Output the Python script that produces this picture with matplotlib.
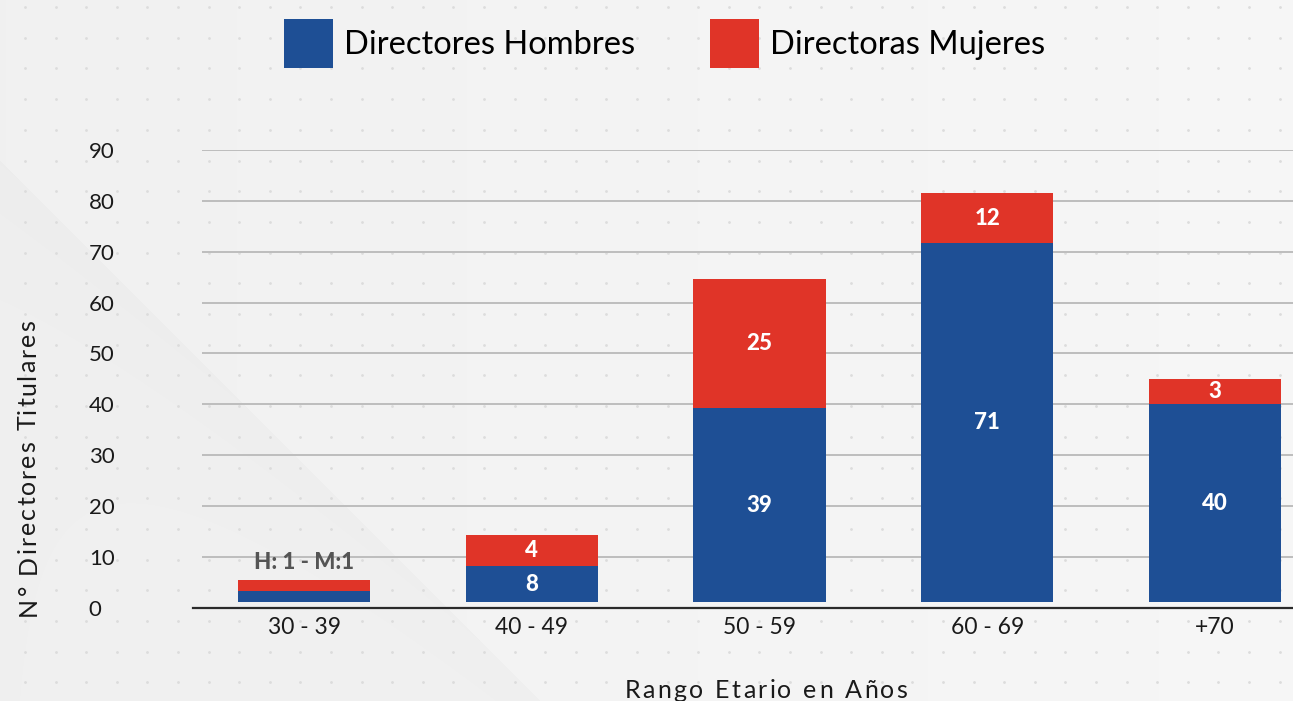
import numpy as np
import matplotlib
matplotlib.use("Agg")
import matplotlib.pyplot as plt

# ====== DATA ======
categorias = ["30 - 39", "40 - 49", "50 - 59", "60 - 69", "+70"]
hombres = [1, 8, 39, 71, 40]          # valores rotulados
mujeres = [1, 4, 25, 12, 3]
# alturas de los segmentos tal como se dibujan en la lamina
hombres_alto = [2.2, 7.1, 38.1, 70.6, 38.9]
mujeres_alto = [2.2, 6.1, 25.4, 9.8, 4.9]
y_ticks = [0, 10, 20, 30, 40, 50, 60, 70, 80, 90]

AZUL = "#1e4f95"
ROJO = "#e03428"
BASE = 1.1
W, H = 1293, 701

plt.rcParams["font.family"] = ["Lato", "DejaVu Sans"]

fig = plt.figure(figsize=(W / 100, H / 100), dpi=100)
fig.patch.set_facecolor("#f2f2f2")

# ====== BACKGROUND (gradient + diagonal + dots) ======
bg = fig.add_axes([0, 0, 1, 1], zorder=-10)
yy, xx = np.mgrid[0:H, 0:W]
img = 0.945 + 0.022 * (xx / W)
d = yy - xx - 160  # > 0 below diagonal
shade = np.where(d > 0, 0.012 * np.exp(-d / 120.0) + 0.004, 0)
img = img - shade
bg.imshow(np.dstack([img, img, img]), extent=[0, W, H, 0], aspect="auto")
dx = np.arange(25, W, 30.6)
dy = np.arange(7, H, 30.7)
gx, gy = np.meshgrid(dx, dy)
bg.scatter(gx.ravel(), gy.ravel(), s=4, color="#dcdcdc", linewidths=0)
bg.set_xlim(0, W)
bg.set_ylim(H, 0)
bg.axis("off")


def tracked(x0, y0, txt, size, spacing, rotation=0):
    # texto con espaciado entre letras, centrado en (x0, y0) en pixeles
    r = fig.canvas.get_renderer()
    widths = []
    for ch in txt:
        t = fig.text(0, 0, ch if ch != " " else "n", fontsize=size)
        w = t.get_window_extent(r).width
        if ch == " ":
            w *= 0.5
        widths.append(w)
        t.remove()
    total = sum(widths) + spacing * (len(txt) - 1)
    pos = -total / 2
    for ch, w in zip(txt, widths):
        c = pos + w / 2
        if rotation == 90:
            fx, fy = x0, y0 - c
        else:
            fx, fy = x0 + c, y0
        fig.text(fx / W, 1 - fy / H, ch, fontsize=size, rotation=rotation,
                 ha="center", va="center_baseline" if rotation == 0 else "center",
                 color="#1a1a1a")
        pos += w + spacing


# ====== CHART ======
ax = fig.add_axes([193 / W, (H - 607.75) / H, 1100 / W, (607.75 - 150) / H])
ax.set_facecolor("none")
x = np.arange(len(categorias))
xl = (-111 / 227.75, (W - 304) / 227.75)

ax.hlines(y_ticks[1:], (202 - 304) / 227.75, xl[1], color="#bdbdbd", linewidth=1.4, zorder=1)

b1 = ax.bar(x, hombres_alto, 0.58, bottom=BASE, color=AZUL, zorder=3,
            label="Directores Hombres")
tops = [BASE + h for h in hombres_alto]
b2 = ax.bar(x, mujeres_alto, 0.58, bottom=tops, color=ROJO, zorder=3,
            label="Directoras Mujeres")

for i in range(1, len(categorias)):
    ax.text(x[i], BASE + hombres_alto[i] / 2, str(hombres[i]), ha="center", va="center",
            color="white", fontsize=16, fontweight="black", zorder=4)
    ax.text(x[i], tops[i] + mujeres_alto[i] / 2, str(mujeres[i]), ha="center", va="center",
            color="white", fontsize=16, fontweight="black", zorder=4)
ax.text(x[0], tops[0] + mujeres_alto[0] + 3.3, f"H: {hombres[0]} - M:{mujeres[0]}",
        ha="center", va="center", color="#555555", fontsize=16, fontweight="black", zorder=4)

ax.set_xlim(*xl)
ax.set_ylim(0, 90)
ax.set_xticks(x)
ax.set_xticklabels(categorias, fontsize=16.5, color="#1a1a1a")
ax.set_yticks(y_ticks)
ax.set_yticklabels([str(v) for v in y_ticks], fontsize=16, color="#1a1a1a", ha="left")
ax.tick_params(axis="y", length=0, pad=75)
ax.tick_params(axis="x", length=0, pad=7)
for s in ["top", "right", "left"]:
    ax.spines[s].set_visible(False)
ax.spines["bottom"].set_color("#2a2a2a")
ax.spines["bottom"].set_linewidth(1.6)

tracked(28, 468, "N° Directores Titulares", 18, 1.9, rotation=90)
tracked(766, 688, "Rango Etario en Años", 18, 2.4)

fig.legend(handles=[b1, b2], loc="center left", bbox_to_anchor=(284 / W, 1 - 43.5 / H),
           ncol=2, frameon=False, fontsize=23.5, handlelength=1.5, handleheight=1.93,
           handletextpad=0.33, columnspacing=2.3, borderpad=0, borderaxespad=0)

fig.savefig("out.png", dpi=100, facecolor=fig.get_facecolor())
